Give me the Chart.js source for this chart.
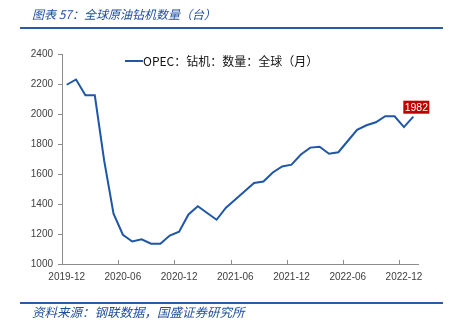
<!DOCTYPE html>
<html>
<head>
<meta charset="utf-8">
<script src="https://cdn.jsdelivr.net/npm/chart.js@4.4.1/dist/chart.umd.min.js"></script>
<style>
html,body{margin:0;padding:0;background:#fff;}
#c{display:block;}
</style>
</head>
<body>
<canvas id="c" width="457" height="329"></canvas>
<script>
const categories = ['2019-12','2020-01','2020-02','2020-03','2020-04','2020-05','2020-06','2020-07','2020-08','2020-09','2020-10','2020-11',
  '2020-12','2021-01','2021-02','2021-03','2021-04','2021-05','2021-06','2021-07','2021-08','2021-09','2021-10','2021-11',
  '2021-12','2022-01','2022-02','2022-03','2022-04','2022-05','2022-06','2022-07','2022-08','2022-09','2022-10','2022-11',
  '2022-12','2023-01'];
const rigCount = [2195,2230,2125,2125,1690,1335,1195,1150,1165,1135,1135,1190,
  1215,1330,1385,1340,1295,1375,1430,1485,1540,1550,1610,1650,
  1662,1730,1776,1782,1735,1745,1820,1895,1925,1945,1985,1985,
  1913,1982];
const yTicks = [1000,1200,1400,1600,1800,2000,2200,2400];
const seriesName = 'OPEC：钻机：数量：全球（月）';
const titleText = '图表 57：全球原油钻机数量（台）';
const sourceText = '资料来源：钢联数据，国盛证券研究所';
const lastLabel = '1982';

const BLUE = '#1f56a6';
const AXIS = '#8c8c8c';
const TXT = '#404040';
const SANS = '"Liberation Sans", Arial, sans-serif';
const CJK = '"Noto Sans CJK SC", "Liberation Sans", sans-serif';

const decor = {
  id: 'decor',
  afterDraw(chart) {
    const ctx = chart.ctx;
    const xs = chart.scales.x, ys = chart.scales.y;
    ctx.save();
    ctx.fillStyle = '#1e4f9c';
    ctx.font = 'italic 12px ' + CJK;
    ctx.textBaseline = 'middle';
    ctx.textAlign = 'left';
    ctx.fillText(titleText, 32, 14);
    ctx.font = 'italic 12.5px ' + CJK;
    ctx.fillText(sourceText, 32, 312);
    ctx.strokeStyle = '#2a5ba8';
    ctx.lineWidth = 2;
    ctx.beginPath(); ctx.moveTo(20, 28); ctx.lineTo(443, 28); ctx.stroke();
    ctx.beginPath(); ctx.moveTo(20, 303); ctx.lineTo(443, 303); ctx.stroke();
    const half = (xs.getPixelForValue(1) - xs.getPixelForValue(0)) / 2;
    ctx.strokeStyle = AXIS; ctx.lineWidth = 1;
    for (let i = 0; i < categories.length; i += 6) {
      const px = Math.round(xs.getPixelForValue(i) - half) + 0.5;
      ctx.beginPath(); ctx.moveTo(px, xs.top); ctx.lineTo(px, xs.top - 4); ctx.stroke();
    }
    const lx = 125, ly = 61;
    ctx.strokeStyle = BLUE; ctx.lineWidth = 2;
    ctx.beginPath(); ctx.moveTo(lx, ly); ctx.lineTo(lx + 18, ly); ctx.stroke();
    ctx.fillStyle = '#111';
    ctx.font = '12px ' + CJK;
    ctx.fillText(seriesName, lx + 18, ly);
    const li = rigCount.length - 1;
    const px = xs.getPixelForValue(li), py = ys.getPixelForValue(rigCount[li]);
    ctx.font = '10.5px ' + SANS;
    const w = 26, h = 13;
    const bx = px - 10, by = py - 3 - h;
    ctx.fillStyle = '#c00000';
    ctx.fillRect(bx, by, w, h);
    ctx.fillStyle = '#fff';
    ctx.textAlign = 'center';
    ctx.fillText(lastLabel, bx + w / 2, by + h / 2 + 0.5);
    ctx.restore();
  }
};

new Chart(document.getElementById('c'), {
  type: 'line',
  data: {
    labels: categories,
    datasets: [{
      label: seriesName,
      data: rigCount,
      borderColor: BLUE,
      borderWidth: 2,
      pointRadius: 0,
      tension: 0,
      fill: false
    }]
  },
  options: {
    responsive: false,
    animation: false,
    layout: { padding: { left: 0, top: 54, right: 39, bottom: 0 } },
    plugins: { legend: { display: false }, tooltip: { enabled: false } },
    scales: {
      x: {
        type: 'category',
        offset: true,
        afterFit(s) { s.height = 65; },
        grid: { display: true, drawOnChartArea: false, drawTicks: false, offset: true, color: 'rgba(0,0,0,0)' },
        border: { display: true, color: AXIS, width: 1 },
        ticks: {
          autoSkip: false, maxRotation: 0, minRotation: 0, padding: 7,
          color: TXT, font: { family: SANS, size: 10 },
          callback(v, i) { return i % 6 === 0 ? categories[i] : ''; }
        }
      },
      y: {
        min: 1000, max: 2400,
        afterFit(s) { s.width = 62; },
        afterBuildTicks(s) { s.ticks = yTicks.map(v => ({ value: v })); },
        grid: { drawOnChartArea: false, drawTicks: true, tickLength: 4, color: AXIS },
        border: { display: true, color: AXIS, width: 1 },
        ticks: { padding: 5, color: TXT, font: { family: SANS, size: 10 }, callback(v) { return String(v); } }
      }
    }
  },
  plugins: [decor]
});
</script>
</body>
</html>
